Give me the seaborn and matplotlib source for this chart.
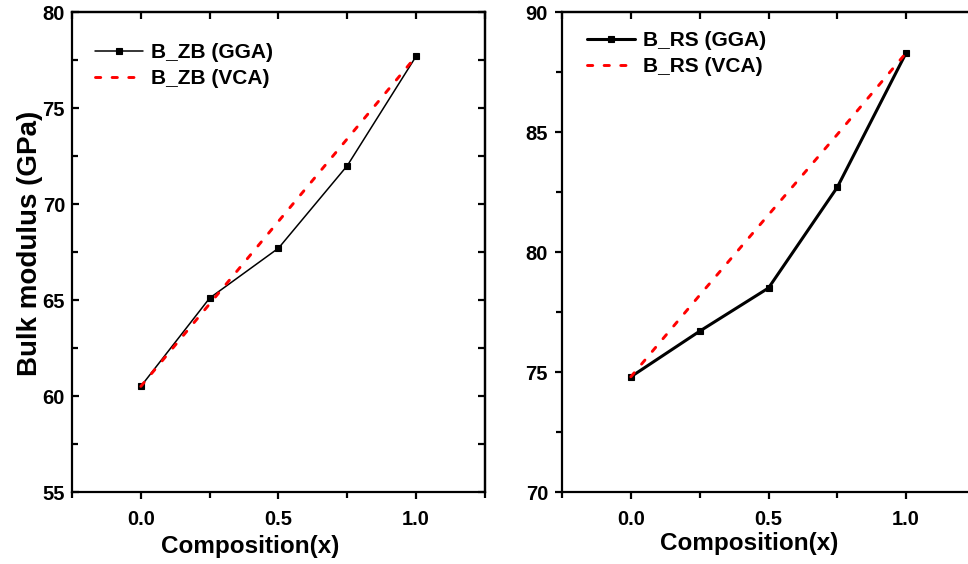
import numpy as np
import pandas as pd
import matplotlib
matplotlib.use("Agg")
import matplotlib.pyplot as plt
from matplotlib.ticker import MultipleLocator
import seaborn as sns

# ---- data ----
composition = [0.0, 0.25, 0.5, 0.75, 1.0]
zb_gga = [60.5, 65.1, 67.7, 72.0, 77.7]
zb_vca = [60.5, 64.8, 69.1, 73.4, 77.7]
rs_gga = [74.8, 76.7, 78.5, 82.7, 88.3]
rs_vca = [74.8, 78.2, 81.55, 84.9, 88.3]

zb_labels = ["B_ZB (GGA)", "B_ZB (VCA)"]
rs_labels = ["B_RS (GGA)", "B_RS (VCA)"]
x_label = "Composition(x)"
y_label = "Bulk modulus (GPa)"

sns.set_style("ticks")
plt.rcParams["font.family"] = ["Liberation Sans", "DejaVu Sans"]
plt.rcParams["font.weight"] = "bold"
plt.rcParams["axes.labelweight"] = "bold"
plt.rcParams["text.color"] = "black"
plt.rcParams["axes.labelcolor"] = "black"
plt.rcParams["xtick.color"] = "black"
plt.rcParams["ytick.color"] = "black"
plt.rcParams["axes.edgecolor"] = "black"

W, H = 968, 564
fig = plt.figure(figsize=(W / 100, H / 100), dpi=100)

def frac_rect(x0, x1, ytop, ybot):
    return [x0 / W, 1 - ybot / H, (x1 - x0) / W, (ybot - ytop) / H]

ax1 = fig.add_axes(frac_rect(72, 485, 12, 492))
ax2 = fig.add_axes(frac_rect(562, 975, 12, 492))

red_dash = (0, (1.8, 3.9))

def draw(ax, gga, vca, labels, lw_gga):
    df = pd.DataFrame({"x": composition, "gga": gga, "vca": vca})
    sns.lineplot(data=df, x="x", y="gga", ax=ax, color="black", marker="s",
                 markersize=4.5, markeredgewidth=0.8, markeredgecolor="black",
                 linewidth=lw_gga, label=labels[0])
    sns.lineplot(data=df, x="x", y="vca", ax=ax, color="red",
                 linewidth=2.1, linestyle=red_dash, dash_capstyle="round",
                 label=labels[1])

draw(ax1, zb_gga, zb_vca, zb_labels, 1.1)
draw(ax2, rs_gga, rs_vca, rs_labels, 2.2)

tick_fs = 14.5
for ax, ylim, ymaj, ydir in [(ax1, (55, 80), 5, "in"), (ax2, (70, 90), 5, "out")]:
    ax.set_xlim(-0.25, 1.25)
    ax.set_ylim(*ylim)
    ax.xaxis.set_major_locator(MultipleLocator(0.5))
    ax.xaxis.set_minor_locator(MultipleLocator(0.25))
    ax.yaxis.set_major_locator(MultipleLocator(ymaj))
    ax.yaxis.set_minor_locator(MultipleLocator(ymaj / 2))
    for s in ax.spines.values():
        s.set_linewidth(1.6)
        s.set_visible(True)
        s.set_color("black")
    ax.tick_params(axis="x", which="both", direction="out", bottom=True, top=False,
                   width=1.6, labelsize=tick_fs, pad=8, colors="black")
    ax.tick_params(axis="y", which="both", direction=ydir, left=True, right=False,
                   width=1.6, labelsize=tick_fs, pad=5, colors="black")
    ax.tick_params(which="major", length=5)
    ax.tick_params(which="minor", length=4)
    for lab in ax.get_xticklabels() + ax.get_yticklabels():
        lab.set_fontweight("bold")
    # top axis with inward ticks
    sec = ax.secondary_xaxis("top")
    sec.xaxis.set_major_locator(MultipleLocator(0.25))
    sec.tick_params(axis="x", which="both", direction="in", length=5, width=1.6,
                    labeltop=False)
    sec.spines["top"].set_linewidth(1.6)
    secy = ax.secondary_yaxis("right")
    secy.yaxis.set_major_locator(MultipleLocator(ymaj / 2))
    secy.tick_params(axis="y", which="both", direction="in", length=5, width=1.6,
                     labelright=False)
    secy.spines["right"].set_linewidth(1.6)
    ax.set_xlabel(x_label, fontsize=17.5, fontweight="bold")
    ax.set_ylabel("")

ax1.set_ylabel(y_label, fontsize=20, fontweight="bold")
ax1.yaxis.set_label_coords(-0.07, 0.517)
ax1.xaxis.set_label_coords(0.431, -0.09)
ax2.xaxis.set_label_coords(0.454, -0.084)

leg_kw = dict(frameon=False, loc="upper left", prop={"weight": "bold", "size": 15},
              handlelength=2.3, handletextpad=0.4, labelspacing=0.35,
              borderaxespad=0, borderpad=0, numpoints=1)
leg1 = ax1.legend(bbox_to_anchor=((95 - 72) / 413, (492 - 43) / 480), **leg_kw)
leg2 = ax2.legend(bbox_to_anchor=((587 - 562) / 413, (492 - 31) / 480), **leg_kw)

fig.savefig("out.png", dpi=100)
